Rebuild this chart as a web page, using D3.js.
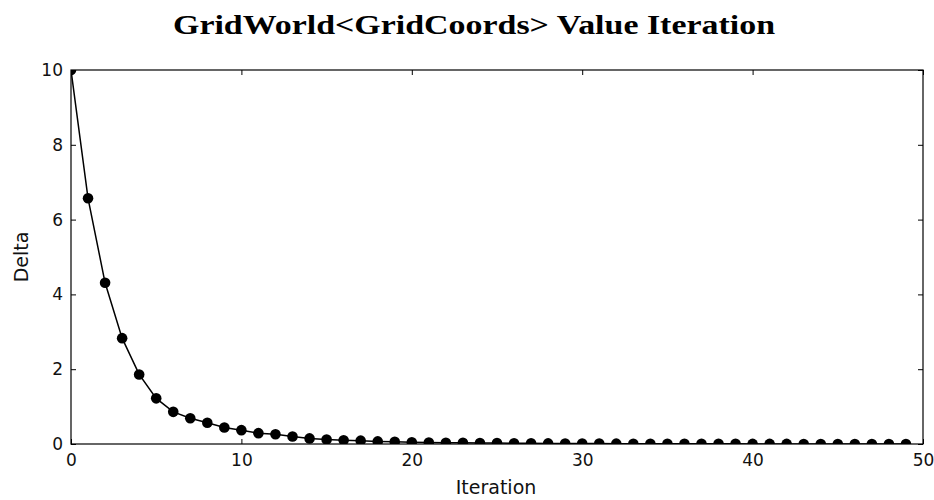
<!DOCTYPE html>
<html>
<head>
<meta charset="utf-8">
<script src="https://cdn.jsdelivr.net/npm/d3@7/dist/d3.min.js"></script>
<style>
  html, body { margin: 0; padding: 0; background: #fff; }
  svg { display: block; }
</style>
</head>
<body>
<svg id="chart" width="934" height="500"></svg>
<script>
// Convergence delta of value iteration per sweep
const iterations = d3.range(0, 50);
const deltas = [
  10.0, 6.57, 4.31, 2.83, 1.86, 1.22, 0.86, 0.69, 0.57, 0.44,
  0.37, 0.29, 0.26, 0.20, 0.15, 0.12, 0.10, 0.09, 0.07, 0.06,
  0.045, 0.040, 0.035, 0.031, 0.027, 0.024, 0.021, 0.018, 0.016, 0.014,
  0.012, 0.011, 0.010, 0.008, 0.007, 0.006, 0.006, 0.005, 0.004, 0.004,
  0.003, 0.003, 0.003, 0.002, 0.002, 0.002, 0.001, 0.001, 0.001, 0.001
];
const xTicks = [0, 10, 20, 30, 40, 50];
const yTicks = [0, 2, 4, 6, 8, 10];
const titleText = "GridWorld<GridCoords> Value Iteration";
const xLabel = "Iteration";
const yLabel = "Delta";

const svg = d3.select("#chart");
const m = { left: 71, right: 11, top: 70, bottom: 56 };
const W = 934, H = 500;
const x = d3.scaleLinear().domain([0, 50]).range([m.left, W - m.right]);
const y = d3.scaleLinear().domain([0, 10]).range([H - m.bottom, m.top]);

svg.append("defs").append("clipPath").attr("id", "plotClip")
  .append("rect")
  .attr("x", x(0)).attr("y", y(10))
  .attr("width", x(50) - x(0)).attr("height", y(0) - y(10));

const tickFont = "'DejaVu Sans', sans-serif";

// Axes with inward ticks on all four sides
function styleAxis(g) {
  g.select(".domain").remove();
  g.selectAll("line").attr("stroke", "#000").attr("stroke-width", 1);
  g.selectAll("text").attr("font-family", tickFont).attr("font-size", 17).attr("fill", "#111");
}
svg.append("g").attr("transform", `translate(0,${y(0)})`)
  .call(d3.axisBottom(x).tickValues(xTicks).tickFormat(d3.format("d")).tickSizeInner(-5).tickSizeOuter(0).tickPadding(10))
  .call(styleAxis);
svg.append("g").attr("transform", `translate(0,${y(10)})`)
  .call(d3.axisTop(x).tickValues(xTicks).tickFormat("").tickSizeInner(-5).tickSizeOuter(0))
  .call(styleAxis);
svg.append("g").attr("transform", `translate(${x(0)},0)`)
  .call(d3.axisLeft(y).tickValues(yTicks).tickFormat(d3.format("d")).tickSizeInner(-5).tickSizeOuter(0).tickPadding(8))
  .call(styleAxis);
svg.append("g").attr("transform", `translate(${x(50)},0)`)
  .call(d3.axisRight(y).tickValues(yTicks).tickFormat("").tickSizeInner(-5).tickSizeOuter(0))
  .call(styleAxis);

// Line and markers
const data = iterations.map((d, i) => ({ it: d, v: deltas[i] }));
const plot = svg.append("g").attr("clip-path", "url(#plotClip)");
plot.append("path").datum(data)
  .attr("fill", "none").attr("stroke", "#000").attr("stroke-width", 1.5)
  .attr("d", d3.line().x(d => x(d.it)).y(d => y(d.v)));
plot.selectAll("circle").data(data).enter().append("circle")
  .attr("cx", d => x(d.it)).attr("cy", d => y(d.v)).attr("r", 5.3)
  .attr("fill", "#000");

// Frame
svg.append("rect")
  .attr("x", x(0)).attr("y", y(10))
  .attr("width", x(50) - x(0)).attr("height", y(0) - y(10))
  .attr("fill", "none").attr("stroke", "#000").attr("stroke-width", 1.2);

// Title and axis labels
svg.append("text").attr("x", 474).attr("y", 34).attr("text-anchor", "middle")
  .attr("font-family", "'Liberation Serif', serif").attr("font-weight", "bold").attr("font-size", 27)
  .attr("textLength", 602).attr("lengthAdjust", "spacingAndGlyphs")
  .text(titleText);
svg.append("text").attr("x", 496).attr("y", 494).attr("text-anchor", "middle")
  .attr("font-family", tickFont).attr("font-size", 19).attr("fill", "#111").text(xLabel);
svg.append("text").attr("transform", `translate(28,${(y(0) + y(10)) / 2}) rotate(-90)`)
  .attr("text-anchor", "middle")
  .attr("font-family", tickFont).attr("font-size", 19).attr("fill", "#111").text(yLabel);
</script>
</body>
</html>
